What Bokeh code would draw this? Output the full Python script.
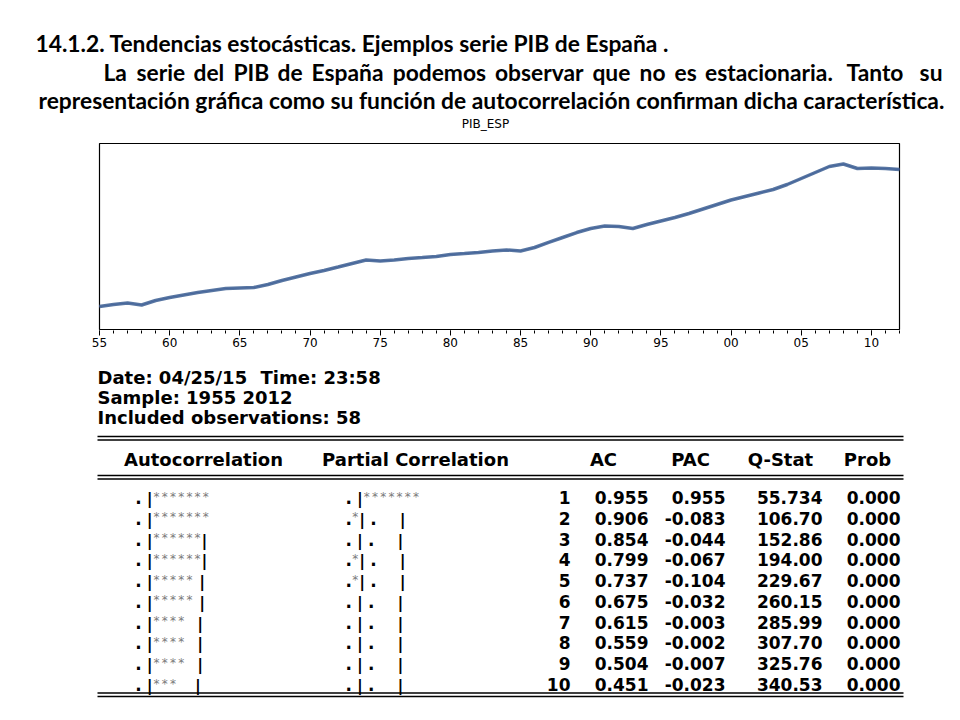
from bokeh.plotting import figure
from bokeh.layouts import column
from bokeh.models import Range1d, FixedTicker
from bokeh.core.properties import value
from bokeh.embed import file_html
from bokeh.resources import INLINE

# ---------------- data ----------------
title_1 = "14.1.2. Tendencias estocásticas. Ejemplos serie PIB de España ."
title_2 = "La serie del PIB de España podemos observar que no es estacionaria. Tanto su"
title_3 = "representación gráfica como su función de autocorrelación confirman dicha característica."
series_name = "PIB_ESP"

years = list(range(1955, 2013))
pib_esp = [11.000, 11.029, 11.051, 11.022, 11.087, 11.130, 11.167, 11.203, 11.232, 11.261,
           11.268, 11.275, 11.319, 11.377, 11.428, 11.478, 11.522, 11.572, 11.623, 11.674,
           11.659, 11.674, 11.696, 11.710, 11.725, 11.754, 11.768, 11.783, 11.804, 11.819,
           11.804, 11.855, 11.928, 12.000, 12.072, 12.130, 12.167, 12.159, 12.130, 12.188,
           12.239, 12.290, 12.348, 12.413, 12.478, 12.543, 12.594, 12.645, 12.696, 12.768,
           12.855, 12.942, 13.029, 13.065, 13.000, 13.007, 13.000, 12.986]
tick_years = [1955, 1960, 1965, 1970, 1975, 1980, 1985, 1990, 1995, 2000, 2005, 2010]
tick_labels = ["55", "60", "65", "70", "75", "80", "85", "90", "95", "00", "05", "10"]

info_date = "Date: 04/25/15"
info_time = "Time: 23:58"
info_sample = "Sample: 1955 2012"
info_obs = "Included observations: 58"
headers = ["Autocorrelation", "Partial Correlation", "AC", "PAC", "Q-Stat", "Prob"]

lags = [1, 2, 3, 4, 5, 6, 7, 8, 9, 10]
ac = [0.955, 0.906, 0.854, 0.799, 0.737, 0.675, 0.615, 0.559, 0.504, 0.451]
pac = [0.955, -0.083, -0.044, -0.067, -0.104, -0.032, -0.003, -0.002, -0.007, -0.023]
q_stat = [55.734, 106.70, 152.86, 194.00, 229.67, 260.15, 285.99, 307.70, 325.76, 340.53]
prob = [0.000, 0.000, 0.000, 0.000, 0.000, 0.000, 0.000, 0.000, 0.000, 0.000]
ac_graph = [". |*******", ". |*******", ". |******|", ". |******|", ". |***** |",
            ". |***** |", ". |****  |", ". |****  |", ". |****  |", ". |***   |"]
pac_graph = [". |*******", ".*| .    |", ". | .    |", ".*| .    |", ".*| .    |",
             ". | .    |", ". | .    |", ". | .    |", ". | .    |", ". | .    |"]

# ---------------- layout ----------------
W = 944
TOP_A, TOP_B, TOP_C = 0, 133, 355
H_A, H_B, H_C = TOP_B - TOP_A, TOP_C - TOP_B, 704 - TOP_C
DV = value("DejaVu Sans")


def blank(h):
    p = figure(width=W, height=h, x_range=Range1d(0, W), y_range=Range1d(h, 0),
               output_backend="svg", toolbar_location=None,
               x_axis_location=None, y_axis_location=None, min_border=0)
    p.outline_line_color = None
    p.xgrid.grid_line_color = None
    p.ygrid.grid_line_color = None
    return p


# ---- header text ----
pa = blank(H_A)
hdr = dict(text_font=value("Lato"), text_font_style="bold", text_font_size="22.8px",
           text_baseline="middle", text_color="black")
pa.text(x=[35], y=[42 - TOP_A], text=[title_1], **hdr)
# justified second line: words spread between x=103 and x=942
words_2 = title_2.split(" ")
word_x = [103, 136, 193, 232.9, 277, 311.1, 392.2, 494.5, 591.9, 639.1, 674.1, 704.5, 846]
pa.text(x=word_x, y=[71 - TOP_A] * len(word_x), text=words_2[:-1], **hdr)
pa.text(x=[942], y=[71 - TOP_A], text=[words_2[-1]], text_align="right", **hdr)
pa.text(x=[38], y=[99.5 - TOP_A], text=[title_3], **hdr)
pa.text(x=[485], y=[123 - TOP_A], text=[series_name], text_font=DV, text_font_size="12px",
        text_baseline="middle", text_align="center", text_color="black")

# ---- line chart ----
BOX_L, BOX_R, BOX_T, BOX_B = 99, 899, 143, 329      # box edges in page pixels
FRAME_T, FRAME_B = 141, 330
x_first, x_last = years[0], years[-1]
px_per_year = (BOX_R - BOX_L) / (x_last - x_first)
Y_REF_PX, Y_REF_VAL, PX_PER_UNIT = 306, pib_esp[0], 69.0


def val_at(py):
    return Y_REF_VAL + (Y_REF_PX - py) / PX_PER_UNIT


pb = figure(width=W, height=H_B,
            x_range=Range1d(x_first - BOX_L / px_per_year, x_first + (W - BOX_L) / px_per_year),
            y_range=Range1d(val_at(FRAME_B), val_at(FRAME_T)),
            output_backend="svg", toolbar_location=None, y_axis_location=None,
            min_border_left=0, min_border_right=0,
            min_border_top=FRAME_T - TOP_B, min_border_bottom=TOP_C - FRAME_B)
pb.outline_line_color = None
pb.xgrid.grid_line_color = None
pb.ygrid.grid_line_color = None
ax = pb.xaxis[0]
ax.ticker = FixedTicker(ticks=tick_years, minor_ticks=years)
ax.major_label_overrides = dict(zip(tick_years, tick_labels))
ax.major_label_text_font = "DejaVu Sans"
ax.major_label_text_font_size = "12px"
ax.major_label_text_color = "black"
ax.major_label_standoff = 2
ax.axis_line_color = None
ax.major_tick_in = 0
ax.major_tick_out = 5
ax.minor_tick_in = 0
ax.minor_tick_out = 3
ax.major_tick_line_color = "black"
ax.minor_tick_line_color = "black"
pb.quad(left=[x_first], right=[x_last], bottom=[val_at(BOX_B)], top=[val_at(BOX_T)],
        fill_color=None, line_color="black", line_width=1.2)
pb.line(years, pib_esp, line_color="#1f2f9f", line_width=1.2)
pb.line(years, pib_esp, line_color="#4a6a9a", line_width=3.5, line_alpha=0.92)

# ---- correlogram table ----
pc = blank(H_C)


def ty(py):
    return py - TOP_C


info = dict(text_font=DV, text_font_style="bold", text_font_size="18px",
            text_color="black", text_baseline="middle")
pc.text(x=[97], y=[ty(377)], text=[info_date], **info)
pc.text(x=[260], y=[ty(377)], text=[info_time], **info)
pc.text(x=[97], y=[ty(397)], text=[info_sample], **info)
pc.text(x=[97], y=[ty(417)], text=[info_obs], **info)

rule_y = [436, 439.5, 475, 478.5, 692.5, 696]
pc.segment(x0=[97] * len(rule_y), x1=[903] * len(rule_y),
           y0=[ty(v) for v in rule_y], y1=[ty(v) for v in rule_y],
           line_color="black", line_width=1.6)

head_x = [203, 415, 603, 690, 780, 867]
pc.text(x=head_x, y=[ty(459)] * len(headers), text=headers, text_align="center", **info)

row_mid = [ty(497 + i * 20.78) for i in range(len(lags))]


def fmt_q(v):
    d = 5 - len(str(int(v)))
    return f"{v:.{d}f}"


num = dict(text_font=DV, text_font_style="bold", text_font_size="17px", text_color="black",
           text_align="right", text_baseline="middle")
cols = [
    (570, [str(v) for v in lags]),
    (648, [f"{v:.3f}" for v in ac]),
    (725, [f"{v:.3f}" for v in pac]),
    (822, [fmt_q(v) for v in q_stat]),
    (900, [f"{v:.3f}" for v in prob]),
]
for right, labels in cols:
    pc.text(x=[right] * len(labels), y=row_mid, text=labels, **num)

CHAR_W = {".": 5.0, " ": 6.0, "|": 5.5, "*": 8.2}


def draw_graph(strings, x_start):
    dots, bars, stars = ([], []), ([], []), ([], [])
    for s, ym in zip(strings, row_mid):
        x = x_start
        for ch in s:
            w = CHAR_W[ch]
            cx = x + w / 2
            target = {".": dots, "|": bars, "*": stars}.get(ch)
            if target is not None:
                target[0].append(cx)
                target[1].append(ym)
            x += w
    pc.text(x=dots[0], y=dots[1], text=["."] * len(dots[0]), text_font=DV,
            text_font_style="bold", text_font_size="17px", text_align="center",
            text_baseline="middle", text_color="black")
    pc.text(x=bars[0], y=[v + 1 for v in bars[1]], text=["|"] * len(bars[0]), text_font=DV,
            text_font_style="bold", text_font_size="16px", text_align="center",
            text_baseline="middle", text_color="black")
    pc.text(x=stars[0], y=[v - 1 for v in stars[1]], text=["*"] * len(stars[0]),
            text_font=DV, text_font_size="12px", text_align="center",
            text_baseline="middle", text_color="#7a7a7a")


draw_graph(ac_graph, 135.5)
draw_graph(pac_graph, 345.7)

layout = column(pa, pb, pc, spacing=0)
open("out.html", "w").write(file_html(layout, INLINE))
